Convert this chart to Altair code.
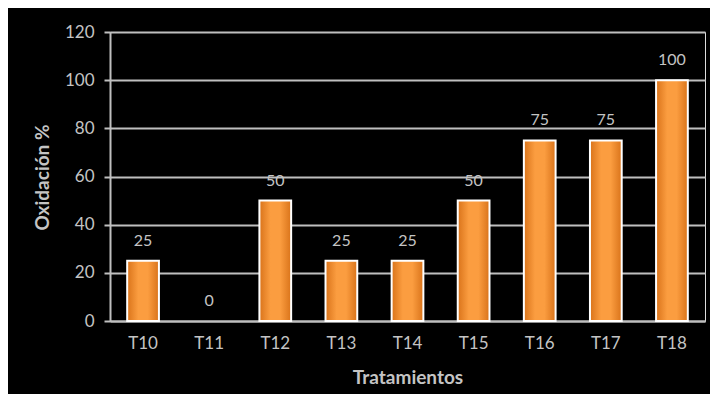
import altair as alt
import pandas as pd

categorias = ["T10", "T11", "T12", "T13", "T14", "T15", "T16", "T17", "T18"]
valores = [25, 0, 50, 25, 25, 50, 75, 75, 100]
y_ticks = [0, 20, 40, 60, 80, 100, 120]

df = pd.DataFrame({"Tratamiento": categorias, "Oxidacion": valores})

FONT = "Lato"
GRAY = "#c4c4c4"

x = alt.X("Tratamiento:N", sort=categorias,
          scale=alt.Scale(paddingInner=0.52, paddingOuter=0.26),
          axis=alt.Axis(title="Tratamientos", labelAngle=0, ticks=False,
                        labelPadding=14, labelFontSize=17, labelColor=GRAY,
                        titleFontSize=19, titleFontWeight="bold", titleColor=GRAY,
                        titleY=56, titleBaseline="middle",
                        domainColor="#bfbfbf", domainWidth=2))
y = alt.Y("Oxidacion:Q",
          scale=alt.Scale(domain=[0, 120], nice=False),
          axis=alt.Axis(title="Oxidación %", values=y_ticks, tickSize=6,
                        tickColor="#bfbfbf", tickWidth=2,
                        labelPadding=10, labelFontSize=17, labelColor=GRAY,
                        titleFontSize=19, titleFontWeight="bold", titleColor=GRAY,
                        titleX=-68, titleY=145, titleAngle=-90,
                        titleBaseline="middle",
                        grid=True, gridColor="#bfbfbf", gridWidth=2,
                        domainColor="#bfbfbf", domainWidth=2))

bars = alt.Chart(df).transform_filter("datum.Oxidacion > 0").mark_bar(
    color=alt.Gradient(
        gradient="linear",
        stops=[alt.GradientStop(color="#d9731a", offset=0),
               alt.GradientStop(color="#fb9d40", offset=0.35),
               alt.GradientStop(color="#fb9d40", offset=0.65),
               alt.GradientStop(color="#d9731a", offset=1)],
        x1=0, x2=1, y1=0, y2=0),
    stroke="white", strokeWidth=2
).encode(x=x, y=y)

labels = alt.Chart(df).mark_text(
    baseline="bottom", dy=-12, fontSize=16, color=GRAY, font=FONT
).encode(x=alt.X("Tratamiento:N", sort=categorias), y="Oxidacion:Q",
         text="Oxidacion:Q")

chart = alt.layer(bars, labels).properties(
    width=595, height=289,
    background="black",
    padding={"left": 102, "top": 24, "right": 5, "bottom": 73},
    autosize=alt.AutoSizeParams(type="none"),
).configure_view(stroke=None).configure(font=FONT)

chart.save("out.html", embed_options={"renderer": "svg", "actions": False})
